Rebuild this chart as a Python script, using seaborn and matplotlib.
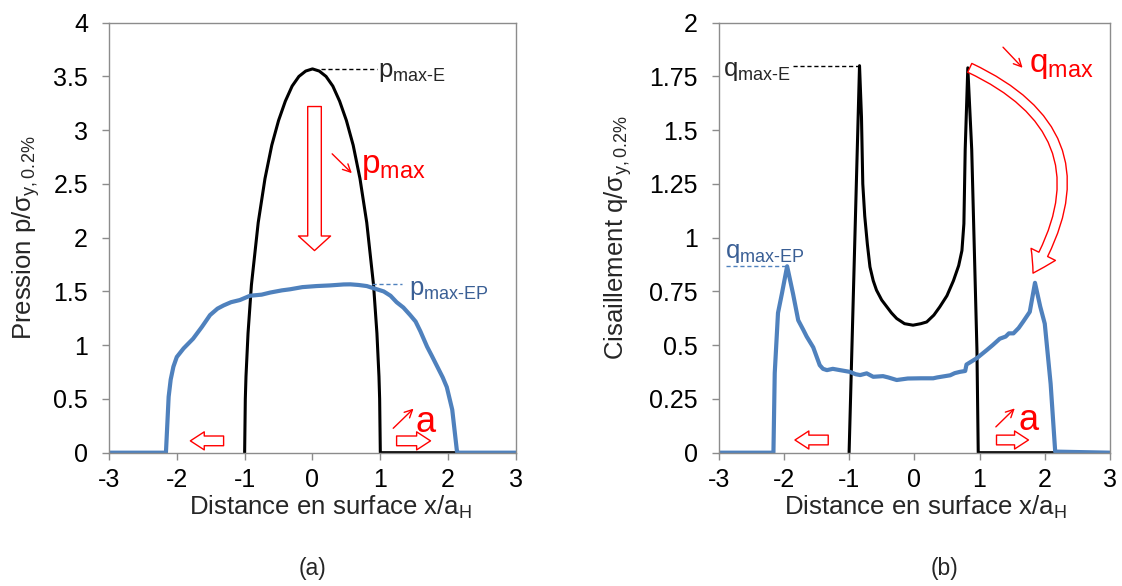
import numpy as np
import pandas as pd
import matplotlib
matplotlib.use("Agg")
import matplotlib.pyplot as plt
import seaborn as sns

# --- data ---
# (a) pressure, elastic (Hertz) and elasto-plastic
p_e_x = [-1.0, -0.99, -0.98, -0.95, -0.9, -0.8, -0.7, -0.6, -0.5, -0.4, -0.3, -0.2, -0.1, 0.0,
         0.1, 0.2, 0.3, 0.4, 0.5, 0.6, 0.7, 0.8, 0.9, 0.95, 0.98, 0.99, 1.0, 2.15]
p_e_y = [0.0, 0.50, 0.71, 1.11, 1.56, 2.14, 2.55, 2.86, 3.09, 3.27, 3.41, 3.50, 3.55, 3.57,
         3.55, 3.50, 3.41, 3.27, 3.09, 2.86, 2.55, 2.14, 1.56, 1.11, 0.71, 0.50, 0.0, 0.0]

p_ep_x = [-3.0, -2.16, -2.12, -2.09, -2.05, -2.0, -1.90, -1.76, -1.63, -1.51, -1.40, -1.31, -1.20,
          -1.07, -0.92, -0.75, -0.62, -0.45, -0.33, -0.15, 0.06, 0.26, 0.46, 0.56, 0.68, 0.80, 0.90,
          1.05, 1.15, 1.24, 1.34, 1.44, 1.52, 1.59, 1.69, 1.76, 1.84, 1.92, 1.98, 2.06, 2.13, 2.16, 3.0]
p_ep_y = [0.0, 0.0, 0.52, 0.68, 0.80, 0.89, 0.97, 1.06, 1.17, 1.28, 1.34, 1.37, 1.40,
          1.42, 1.46, 1.47, 1.49, 1.51, 1.52, 1.54, 1.55, 1.556, 1.565, 1.566, 1.56, 1.55, 1.53,
          1.50, 1.46, 1.40, 1.35, 1.28, 1.22, 1.13, 0.985, 0.90, 0.80, 0.70, 0.61, 0.40, 0.01, 0.0, 0.0]

# (b) shear, elastic and elasto-plastic
q_e_x = [-1.0, -0.84, -0.81, -0.79, -0.76, -0.72, -0.68, -0.63, -0.58, -0.50, -0.42, -0.35, -0.27,
         -0.15, -0.02, 0.10, 0.19, 0.30, 0.39, 0.50, 0.60, 0.68, 0.73, 0.76, 0.78, 0.82, 0.88, 0.96,
         0.98, 2.16]
q_e_y = [0.0, 1.80, 1.56, 1.25, 1.10, 0.97, 0.864, 0.80, 0.756, 0.71, 0.678, 0.65, 0.624,
         0.60, 0.593, 0.60, 0.608, 0.64, 0.678, 0.73, 0.80, 0.87, 0.94, 1.065, 1.41, 1.79, 1.41, 0.48,
         0.0, 0.0]

q_ep_x = [-3.0, -2.16, -2.14, -2.09, -2.03, -1.95, -1.86, -1.78, -1.70, -1.65, -1.55, -1.45, -1.40,
          -1.34, -1.25, -1.14, -0.99, -0.90, -0.83, -0.73, -0.63, -0.48, -0.40, -0.27, -0.10, 0.10,
          0.29, 0.35, 0.45, 0.55, 0.62, 0.70, 0.78, 0.80, 0.96, 1.11, 1.20, 1.31, 1.40, 1.45, 1.52,
          1.60, 1.67, 1.77, 1.85, 1.93, 2.0, 2.09, 2.16, 3.0]
q_ep_y = [0.0, 0.0, 0.37, 0.65, 0.74, 0.867, 0.74, 0.616, 0.57, 0.54, 0.49, 0.407, 0.39,
          0.384, 0.39, 0.384, 0.376, 0.365, 0.361, 0.369, 0.353, 0.356, 0.35, 0.338, 0.345, 0.346,
          0.346, 0.35, 0.355, 0.36, 0.37, 0.376, 0.38, 0.41, 0.44, 0.477, 0.50, 0.53, 0.54, 0.555,
          0.555, 0.58, 0.61, 0.655, 0.79, 0.68, 0.60, 0.32, 0.005, 0.0]

x_ticks = [-3, -2, -1, 0, 1, 2, 3]
p_ticks = [0, 0.5, 1, 1.5, 2, 2.5, 3, 3.5, 4]
q_ticks = [0, 0.25, 0.5, 0.75, 1, 1.25, 1.5, 1.75, 2]
p_tick_labels = ["0", "0.5", "1", "1.5", "2", "2.5", "3", "3.5", "4"]
q_tick_labels = ["0", "0.25", "0.5", "0.75", "1", "1.25", "1.5", "1.75", "2"]

BLUE = "#4F81BD"
BLUE_TXT = "#3A5F95"
GREY = "#8C8C8C"
HY = "\u2010"  # real hyphen, avoids mathtext minus spacing

sns.set_theme(style="white")
plt.rcParams["font.family"] = ["Liberation Sans", "DejaVu Sans"]
plt.rcParams.update({
    "mathtext.fontset": "custom",
    "mathtext.rm": "Liberation Sans",
    "mathtext.it": "Liberation Sans",
    "mathtext.bf": "Liberation Sans:bold",
    "mathtext.default": "regular",
})

fig = plt.figure(figsize=(11.22, 5.86), dpi=100)
ax1 = fig.add_axes([0.0971, 0.2275, 0.3628, 0.7338])
ax2 = fig.add_axes([0.6405, 0.2275, 0.3488, 0.7338])


def style_axes(ax, yticks, ylabels):
    ax.set_xlim(-3, 3)
    ax.set_ylim(yticks[0], yticks[-1])
    ax.set_xticks(x_ticks)
    ax.set_xticklabels([str(t) for t in x_ticks])
    ax.set_yticks(yticks)
    ax.set_yticklabels(ylabels)
    for s in ax.spines.values():
        s.set_color(GREY)
        s.set_linewidth(1.0)
    ax.tick_params(axis="both", which="major", direction="out", length=5, width=1,
                   color=GREY, labelsize=18, labelcolor="black", bottom=True, left=True)
    ax.tick_params(axis="y", pad=10)
    ax.tick_params(axis="x", pad=6)
    ax.grid(False)


def hollow_arrow(ax, tail, tip, scale=10, rad=0.0, tw=0.7, hw=1.65, hl=0.75):
    ax.annotate("", xy=tip, xytext=tail,
                arrowprops=dict(arrowstyle=f"simple,head_length={hl},head_width={hw},tail_width={tw}",
                                fc="white", ec="red", lw=1.0, mutation_scale=scale,
                                shrinkA=0, shrinkB=0, connectionstyle=f"arc3,rad={rad}"))


def thin_arrow(ax, tail, tip):
    ax.annotate("", xy=tip, xytext=tail,
                arrowprops=dict(arrowstyle="->", color="red", lw=1.0, mutation_scale=14,
                                shrinkA=0, shrinkB=0))


# ---------- (a) pressure ----------
sns.lineplot(x=p_e_x, y=p_e_y, ax=ax1, color="black", lw=2.2, sort=False, estimator=None)
sns.lineplot(x=p_ep_x, y=p_ep_y, ax=ax1, color=BLUE, lw=3.0, sort=False, estimator=None)
style_axes(ax1, p_ticks, p_tick_labels)

pmax_e = max(p_e_y)
pmax_ep = max(p_ep_y)
ax1.plot([0.12, 0.95], [pmax_e, pmax_e], ls=(0, (3, 2)), color="black", lw=1)
ax1.text(0.97, pmax_e - 0.03, f"p$_{{max{HY}E}}$", fontsize=18.5, va="center", ha="left")
ax1.plot([0.88, 1.32], [pmax_ep, pmax_ep], ls=(0, (3, 2)), color=BLUE, lw=1)
ax1.text(1.42, pmax_ep - 0.05, f"p$_{{max{HY}EP}}$", fontsize=18.5, va="center", ha="left",
         color=BLUE_TXT)

hollow_arrow(ax1, (0.03, 3.22), (0.03, 1.88), scale=14, tw=0.7, hw=1.65, hl=0.75)
thin_arrow(ax1, (0.29, 2.78), (0.58, 2.60))
ax1.text(0.72, 2.66, "p$_{max}$", fontsize=24, color="red", va="center", ha="left")

hollow_arrow(ax1, (-1.31, 0.11), (-1.80, 0.11), scale=10, tw=0.7, hw=1.3, hl=1.0)
hollow_arrow(ax1, (1.24, 0.11), (1.74, 0.11), scale=10, tw=0.7, hw=1.3, hl=1.0)
thin_arrow(ax1, (1.19, 0.227), (1.49, 0.41))
ax1.text(1.52, 0.28, "a", fontsize=26, color="red", va="center", ha="left")

ax1.set_xlabel("Distance en surface x/a$_H$", fontsize=18.5)
ax1.xaxis.set_label_coords(0.545, -0.095)
ax1.set_ylabel("Pression p/σ$_{y,0.2\\%}$", fontsize=18.5)
ax1.yaxis.set_label_coords(-0.165, 0.5)

# ---------- (b) shear ----------
sns.lineplot(x=q_e_x, y=q_e_y, ax=ax2, color="black", lw=2.2, sort=False, estimator=None)
sns.lineplot(x=q_ep_x, y=q_ep_y, ax=ax2, color=BLUE, lw=3.0, sort=False, estimator=None)
style_axes(ax2, q_ticks, q_tick_labels)

qmax_e = max(q_e_y)
qmax_ep = max(q_ep_y)
ax2.plot([-1.86, -0.86], [qmax_e, qmax_e], ls=(0, (3, 2)), color="black", lw=1)
ax2.text(-2.93, qmax_e - 0.025, f"q$_{{max{HY}E}}$", fontsize=18.5, va="center", ha="left")
ax2.plot([-2.88, -1.97], [qmax_ep, qmax_ep], ls=(0, (3, 2)), color=BLUE, lw=1)
ax2.text(-2.91, qmax_ep + 0.06, f"q$_{{max{HY}EP}}$", fontsize=18.5, va="center", ha="left",
         color=BLUE_TXT)

hollow_arrow(ax2, (0.85, 1.79), (1.82, 0.835), scale=14, rad=-0.55, tw=0.5, hw=1.4, hl=1.1)
thin_arrow(ax2, (1.36, 1.886), (1.66, 1.79))
ax2.text(1.76, 1.80, "q$_{max}$", fontsize=24, color="red", va="center", ha="left")

hollow_arrow(ax2, (-1.32, 0.059), (-1.83, 0.059), scale=10, tw=0.7, hw=1.3, hl=1.0)
hollow_arrow(ax2, (1.26, 0.059), (1.75, 0.059), scale=10, tw=0.7, hw=1.3, hl=1.0)
thin_arrow(ax2, (1.25, 0.12), (1.54, 0.206))
ax2.text(1.6, 0.15, "a", fontsize=26, color="red", va="center", ha="left")

ax2.set_xlabel("Distance en surface x/a$_H$", fontsize=18.5)
ax2.xaxis.set_label_coords(0.528, -0.095)
ax2.set_ylabel("Cisaillement q/σ$_{y,0.2\\%}$", fontsize=18.5)
ax2.yaxis.set_label_coords(-0.215, 0.5)

fig.text(312 / 1122, 1 - 568 / 586, "(a)", fontsize=16.5, ha="center", va="center")
fig.text(945 / 1122, 1 - 568 / 586, "(b)", fontsize=16.5, ha="center", va="center")

fig.savefig("out.png", dpi=100)
